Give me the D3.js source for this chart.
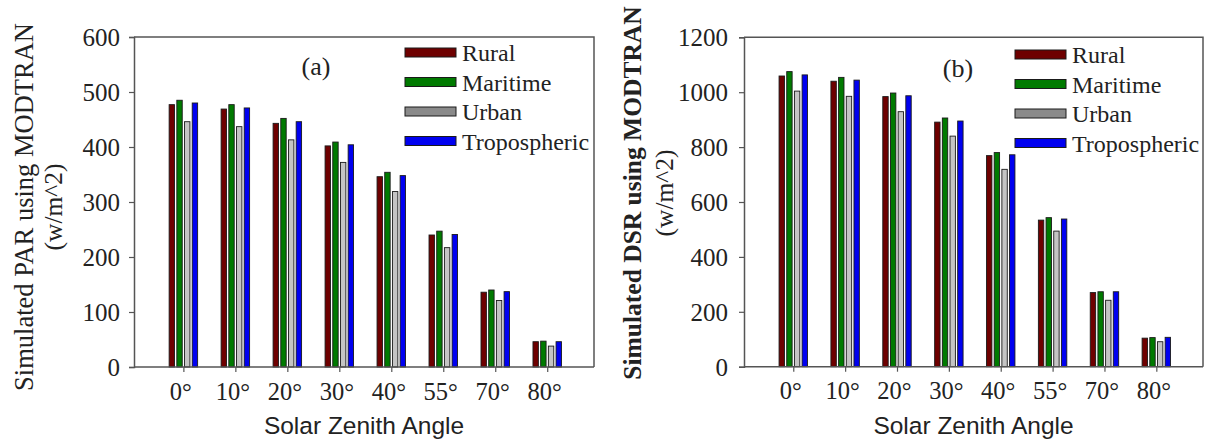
<!DOCTYPE html>
<html>
<head>
<meta charset="utf-8">
<script src="https://cdn.jsdelivr.net/npm/d3@7"></script>
<style>
  html, body { margin: 0; padding: 0; background: #fff; }
  svg { display: block; }
</style>
</head>
<body>
<svg id="chart" width="1206" height="442"></svg>
<script>
// ---- Data ----
const categories = ["0°", "10°", "20°", "30°", "40°", "55°", "70°", "80°"];
const seriesNames = ["Rural", "Maritime", "Urban", "Tropospheric"];

const parRural        = [477, 469, 443, 402, 346, 240, 136, 46];
const parMaritime     = [485, 477, 452, 409, 354, 247, 140, 47];
const parUrban        = [446, 437, 413, 372, 319, 217, 121, 38];
const parTropospheric = [480, 471, 446, 404, 348, 241, 137, 46];

const dsrRural        = [1059, 1040, 984, 891, 769, 534, 270, 104];
const dsrMaritime     = [1075, 1054, 997, 906, 780, 543, 273, 106];
const dsrUrban        = [1004, 985, 929, 840, 719, 494, 242, 91];
const dsrTropospheric = [1063, 1044, 987, 895, 772, 538, 273, 107];

const parTicks = [0, 100, 200, 300, 400, 500, 600];
const dsrTicks = [0, 200, 400, 600, 800, 1000, 1200];

// ---- Styles ----
const barColors = ["#6e0000", "#007a00", "#c4c4c4", "#0000f0"];
const legendColors = ["#6e0000", "#007a00", "#8a8a8a", "#0000f0"];
const serif = "'Liberation Serif', 'Times New Roman', serif";
const sans = "'Liberation Sans', Arial, sans-serif";

const svg = d3.select("#chart");

function drawPanel(opt) {
  const g = svg.append("g");
  const x = d3.scaleLinear().domain([-0.95, 7.9]).range([opt.left, opt.right]);
  const y = d3.scaleLinear().domain([0, opt.yMax]).range([opt.bottom, opt.top]);
  const step = x(1) - x(0);
  const barPitch = step * 0.148;
  const barW = step * 0.104;

  // frame top + right
  g.append("path")
    .attr("d", `M${opt.left},${opt.top}H${opt.right}V${opt.bottom}`)
    .attr("fill", "none").attr("stroke", "#555").attr("stroke-width", 1.5);

  // bars
  const series = opt.values.map((vals, si) => ({ si, vals }));
  g.selectAll("g.series").data(series).join("g")
    .attr("class", "series")
    .selectAll("rect").data(d => d.vals.map((v, i) => ({ v, i, si: d.si })))
    .join("rect")
    .attr("x", d => x(d.i) + (d.si - 1.5) * barPitch - barW / 2)
    .attr("width", barW)
    .attr("y", d => y(d.v))
    .attr("height", d => y(0) - y(d.v))
    .attr("fill", d => barColors[d.si])
    .attr("stroke", "#1a1a1a").attr("stroke-width", 0.9);

  // y axis
  const yAxis = d3.axisLeft(y).tickValues(opt.ticks).tickSize(5).tickPadding(opt.yPad).tickFormat(d3.format("d"));
  const ya = g.append("g").attr("transform", `translate(${opt.left},0)`).call(yAxis);
  ya.select(".domain").attr("stroke", "#555").attr("stroke-width", 1.5);
  ya.selectAll(".tick line").attr("stroke", "#555").attr("stroke-width", 1.2);
  ya.selectAll(".tick text").attr("font-family", serif).attr("font-size", 25).attr("fill", "#222").attr("dy", "0.34em");

  // x axis
  const xAxis = d3.axisBottom(x).tickValues(d3.range(categories.length)).tickSize(5).tickSizeOuter(0)
    .tickPadding(5).tickFormat(i => categories[i]);
  const xa = g.append("g").attr("transform", `translate(0,${opt.bottom})`).call(xAxis);
  xa.select(".domain").attr("stroke", "#555").attr("stroke-width", 1.5)
    .attr("d", `M${opt.left},0H${opt.right}`);
  xa.selectAll(".tick line").attr("stroke", "#555").attr("stroke-width", 1.2);
  xa.selectAll(".tick text").attr("font-family", serif).attr("font-size", 24.5).attr("fill", "#222")
    .attr("dx", -3).attr("dy", "0.92em");

  // x title
  g.append("text")
    .attr("x", (opt.left + opt.right) / 2).attr("y", opt.bottom + 67)
    .attr("text-anchor", "middle").attr("font-family", sans).attr("font-size", 24.5).attr("fill", "#222")
    .text("Solar Zenith Angle");

  // y title (two lines)
  g.append("text")
    .attr("transform", `translate(${opt.yTitleX1},${opt.yTitleY}) rotate(-90)`)
    .attr("text-anchor", "middle").attr("font-family", serif).attr("font-size", opt.yTitleSize)
    .attr("font-weight", opt.yTitleBold ? "bold" : "normal").attr("fill", "#222")
    .text(opt.yTitle);
  g.append("text")
    .attr("transform", `translate(${opt.yTitleX2},${opt.yTitleY}) rotate(-90)`)
    .attr("text-anchor", "middle").attr("font-family", serif).attr("font-size", 25.5).attr("fill", "#222")
    .text("(w/m^2)");

  // panel label
  g.append("text")
    .attr("x", opt.labelX).attr("y", opt.labelY)
    .attr("text-anchor", "middle").attr("font-family", serif).attr("font-size", 26).attr("fill", "#222")
    .text(opt.label);

  // legend
  const lg = g.append("g");
  seriesNames.forEach((name, i) => {
    const cy = opt.legendY + i * 29.5;
    lg.append("rect")
      .attr("x", opt.legendX).attr("y", cy - 4.5).attr("width", 51).attr("height", 9)
      .attr("fill", legendColors[i]).attr("stroke", "#1a1a1a").attr("stroke-width", 1);
    lg.append("text")
      .attr("x", opt.legendX + 57).attr("y", cy + 8.5)
      .attr("font-family", serif).attr("font-size", 24).attr("fill", "#222")
      .text(name);
  });
}

drawPanel({
  left: 134, right: 594, top: 37, bottom: 367,
  yMax: 600, ticks: parTicks, yPad: 9,
  values: [parRural, parMaritime, parUrban, parTropospheric],
  yTitle: "Simulated PAR using MODTRAN", yTitleBold: false, yTitleSize: 26.5,
  yTitleX1: 33, yTitleX2: 62, yTitleY: 207,
  label: "(a)", labelX: 316, labelY: 75,
  legendX: 405, legendY: 52.5
});

drawPanel({
  left: 744, right: 1203, top: 37.3, bottom: 366.7,
  yMax: 1200, ticks: dsrTicks, yPad: 11,
  values: [dsrRural, dsrMaritime, dsrUrban, dsrTropospheric],
  yTitle: "Simulated DSR using  MODTRAN", yTitleBold: true, yTitleSize: 25.5,
  yTitleX1: 641, yTitleX2: 673, yTitleY: 193,
  label: "(b)", labelX: 958, labelY: 77,
  legendX: 1015, legendY: 54.5
});
</script>
</body>
</html>
